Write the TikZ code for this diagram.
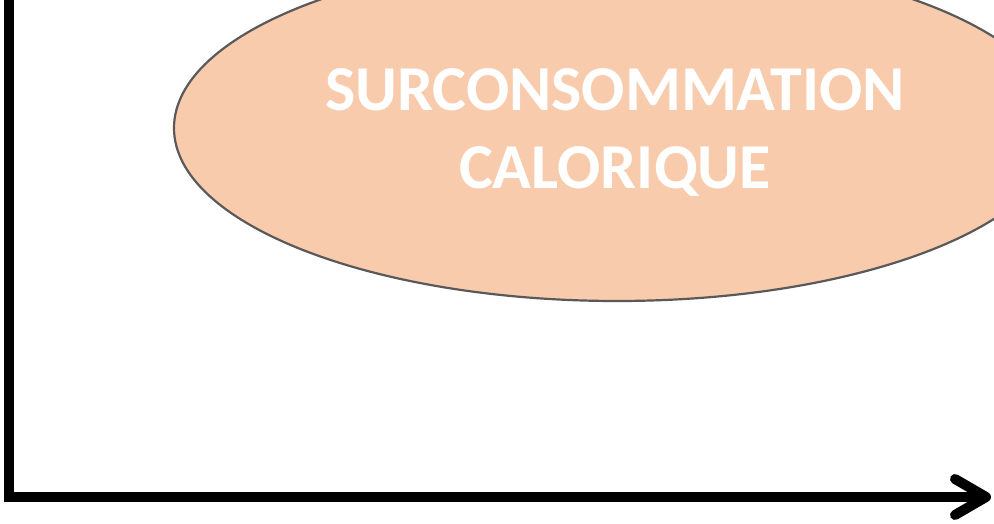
\documentclass[tikz,border=0pt]{standalone}
\usepackage{fontspec}
\setmainfont{Carlito}
\usetikzlibrary{shapes.geometric}
\definecolor{peach}{HTML}{F8CBAD}
\definecolor{rim}{HTML}{595959}
\tikzset{
  axisline/.style={line width=10pt, black, miter limit=10},
  chevron/.style={line width=10pt, black, line cap=round, line join=round},
  blob/.style={ellipse, draw=rim, line width=2.2pt, fill=peach, minimum width=886pt, minimum height=346pt, inner sep=0pt},
  blobtext/.style={text=white, font=\bfseries\fontsize{64}{78}\selectfont, align=center}
}
\begin{document}
\begin{tikzpicture}[x=1pt,y=1pt]
\useasboundingbox (0,0) rectangle (994,523);
\clip (0,0) rectangle (994,523);
\node[blob] (surc) at (617,395) {};
\node[blobtext] (label) at (615,390) {SURCONSOMMATION\\CALORIQUE};
\coordinate (ytop) at (9,530);
\coordinate (origin) at (9,26);
\coordinate (xend) at (986,26);
\coordinate (armup) at (955,44);
\coordinate (armdown) at (955,8);
\draw[axisline] (ytop) -- (origin) -- (xend);
\draw[chevron] (armup) -- (xend) -- (armdown);
\end{tikzpicture}
\end{document}
